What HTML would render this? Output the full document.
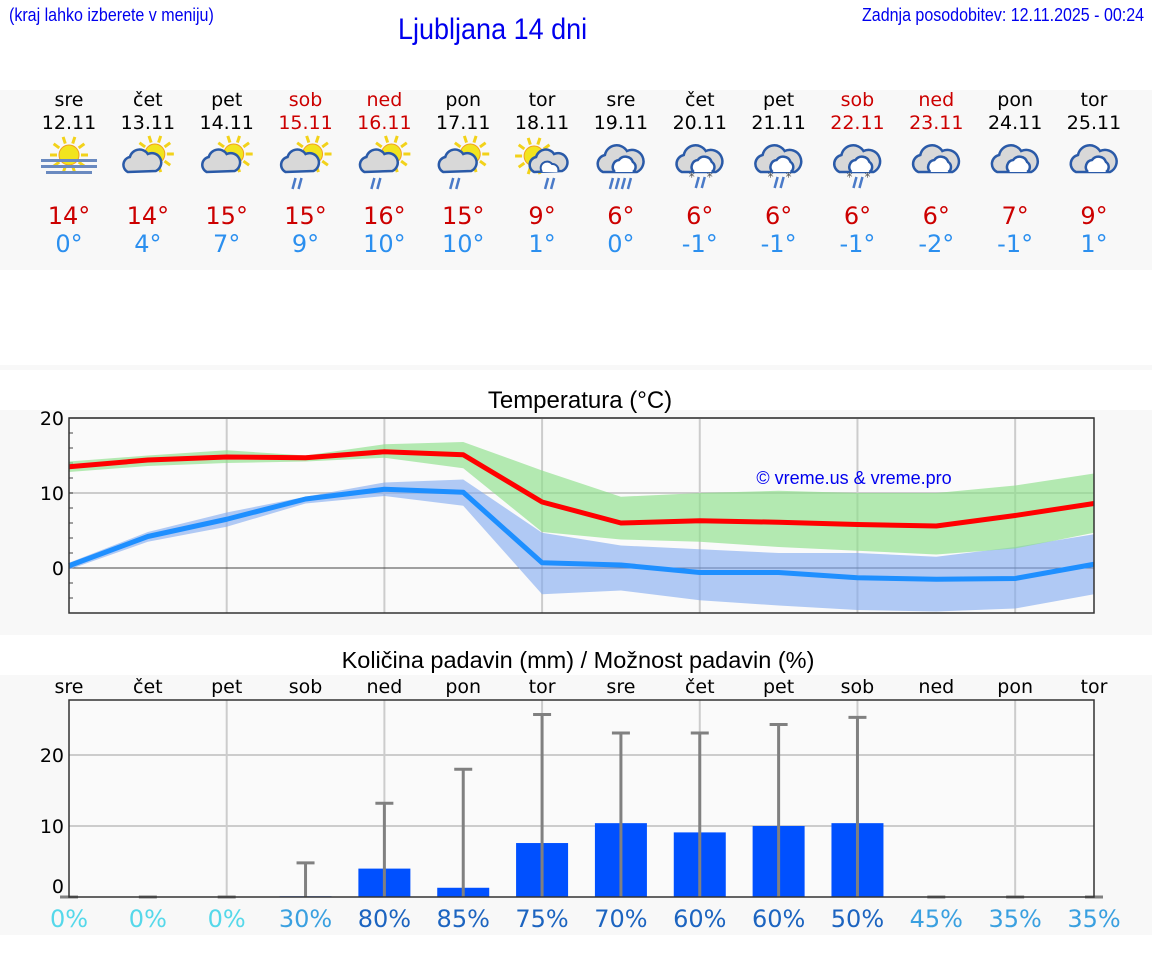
<!DOCTYPE html>
<html><head><meta charset="utf-8">
<style>
body{margin:0;width:1152px;height:975px;background:#fff;position:relative;overflow:hidden;font-family:"DejaVu Sans","Liberation Sans",sans-serif}
.abs{position:absolute}
.hdr{font-family:"Liberation Sans",sans-serif;color:#0000ee;font-size:18px;transform-origin:left top;transform:scaleX(0.89);white-space:nowrap}
.panel{position:absolute;left:0;width:1152px;background:#f8f8f8}
.col{position:absolute;width:80px;text-align:center}
</style></head><body>
<div class="abs hdr" style="left:9px;top:5px">(kraj lahko izberete v meniju)</div>
<div class="abs" style="left:398px;top:13px;font-family:'Liberation Sans',sans-serif;color:#0000ee;font-size:30px;transform:scaleX(0.9);transform-origin:left top;white-space:nowrap">Ljubljana 14 dni</div>
<div class="abs hdr" style="left:862px;top:5px">Zadnja posodobitev: 12.11.2025 - 00:24</div>
<div class="panel" style="top:90px;height:180px"></div>
<div class="panel" style="top:365px;height:5px"></div>
<div class="panel" style="top:410px;height:225px"></div>
<div class="panel" style="top:675px;height:260px"></div>
<div id="days"></div>
<svg id="chart" class="abs" style="left:0;top:0" width="1152" height="975"></svg>
<script>
const dayNames=["sre","čet","pet","sob","ned","pon","tor","sre","čet","pet","sob","ned","pon","tor"];
const dates=["12.11","13.11","14.11","15.11","16.11","17.11","18.11","19.11","20.11","21.11","22.11","23.11","24.11","25.11"];
const weekend=[0,0,0,1,1,0,0,0,0,0,1,1,0,0];
const icons=["fog","sc","sc","scr","scr","scr","sr","r","rs","rs","rs","c","c","c"];
const tMaxLabel=[14,14,15,15,16,15,9,6,6,6,6,6,7,9];
const tMinLabel=[0,4,7,9,10,10,1,0,-1,-1,-1,-2,-1,1];
const tMax=[13.5,14.4,14.8,14.7,15.5,15.1,8.8,6,6.3,6.1,5.8,5.6,7,8.6];
const tMaxHi=[14.2,15,15.7,15,16.5,16.8,13,9.5,10,10.3,10,10,11,12.6];
const tMaxLo=[12.8,13.6,14,14.2,14.7,13.3,4.8,3.8,3.5,2.8,2.3,1.8,2.6,4.7];
const tMin=[0.3,4.2,6.5,9.2,10.5,10.1,0.7,0.4,-0.6,-0.6,-1.3,-1.5,-1.4,0.5];
const tMinHi=[0.7,4.8,7.4,9.5,11.4,11.8,4.7,3,2.5,2,2,1.5,2.8,4.5];
const tMinLo=[-0.2,3.5,5.5,8.6,9.6,8.3,-3.5,-3,-4.3,-5,-5.6,-5.8,-5.4,-3.5];
const precip=[0,0,0,0.1,4,1.3,7.6,10.4,9.1,10,10.4,0,0,0];
const precipMax=[0,0,0,4.8,13.2,18,25.7,23.1,23.1,24.3,25.3,0,0,0];
const chance=[0,0,0,30,80,85,75,70,60,60,50,45,35,35];
const tempTicks=[0,10,20];
const precipTicks=[0,10,20];

const X0=69,X1=1094;
const x=i=>X0+(X1-X0)*i/13;
const yT=v=>568-7.5*v;
const yP=v=>897-7.1*v;
const NS="http://www.w3.org/2000/svg";
const svg=document.getElementById('chart');
function mk(tag,attrs,parent){const e=document.createElementNS(NS,tag);for(const k in attrs)e.setAttribute(k,attrs[k]);(parent||svg).appendChild(e);return e;}

const days=document.getElementById('days');
dayNames.forEach((d,i)=>{
  const c=document.createElement('div');c.className='col';
  
  
  c.style.left=(x(i)-40)+'px';c.style.top='89px';
  const col=weekend[i]?'#cc0000':'#000';
  c.innerHTML=`<div style="font-size:19px;color:${col};line-height:23px">${d}</div><div style="font-size:19px;color:${col};line-height:22px">${dates[i]}</div><div style="height:68px"></div><div style="font-size:24px;color:#cc0000;line-height:28px">${tMaxLabel[i]}°</div><div style="font-size:24px;color:#2b8fef;line-height:28px">${tMinLabel[i]}°</div>`;
  days.appendChild(c);
});
function sun(g,cx,cy){for(let k=0;k<10;k++){const a=k*Math.PI/5;mk('line',{x1:cx+Math.cos(a)*12,y1:cy+Math.sin(a)*12,x2:cx+Math.cos(a)*19,y2:cy+Math.sin(a)*19,stroke:'#f2d21a','stroke-width':3},g);}mk('circle',{cx,cy,r:10,fill:'#f2e41e',stroke:'#f0a020','stroke-width':1},g);}
function cloud(g,cx,cy,s){mk('path',{d:`M${cx-14*s} ${cy+10*s} a8 8 0 0 1 2 -15 a10 10 0 0 1 18 -3 a8 8 0 0 1 8 17 z`,fill:'#d8d8d8',stroke:'#2a5aa8','stroke-width':2.5},g);}
function bigcloud(g,cx,cy){mk('path',{d:`M${cx-18} ${cy+12} a9 9 0 0 1 2 -17 a12 12 0 0 1 22 -4 a10 10 0 0 1 10 21 z`,fill:'#d8d8d8',stroke:'#2a5aa8','stroke-width':2.5},g);mk('path',{d:`M${cx-6} ${cy+12} a7 7 0 0 1 4 -12 a8 8 0 0 1 14 2 a6 6 0 0 1 0 10`,fill:'#fff',stroke:'#2a5aa8','stroke-width':2.5},g);}
function rain(g,cx,cy,n){for(let k=0;k<n;k++)mk('line',{x1:cx+k*6+2,y1:cy,x2:cx+k*6-1,y2:cy+11,stroke:'#4a7ac8','stroke-width':2.5},g);}
function snow(g,cx,cy){[[-8,0],[10,0]].forEach(o=>mk('text',{x:cx+o[0],y:cy+o[1]+8,'font-size':12,fill:'#555','text-anchor':'middle'},g).textContent='*');}
icons.forEach((t,i)=>{
  const g=mk('g',{});
  
  
  const cx=x(i),cy=160;
  if(t=='fog'){sun(g,cx,cy-5);[0,6,12].forEach(o=>mk('rect',{x:cx-28+(o==12?5:0),y:cy+o-1,width:o==12?46:56,height:3,fill:'#6a8ac0'},g));}
  else if(t=='sc'||t=='scr'){sun(g,cx+7,cy-6);cloud(g,cx-6,cy+2,1);if(t=='scr')rain(g,cx-12,cy+18,2);}
  else if(t=='sr'){sun(g,cx-8,cy-4);cloud(g,cx+6,cy+2,1);mk('path',{d:`M${cx} ${cy+12} a6 6 0 0 1 10 -8 a6 6 0 0 1 6 8`,fill:'#fff',stroke:'#2a5aa8','stroke-width':2},g);rain(g,cx+4,cy+18,2);}
  else{bigcloud(g,cx,cy);if(t=='r')rain(g,cx-10,cy+18,4);if(t=='rs'){rain(g,cx-3,cy+17,2);snow(g,cx,cy+13);}}
});

mk('text',{x:580,y:408,'font-size':24,'text-anchor':'middle',fill:'#000','font-family':'Liberation Sans, sans-serif'}).textContent='Temperatura (°C)';
mk('rect',{x:X0,y:418,width:X1-X0,height:195,fill:'#fafafa'});
for(let i=2;i<13;i+=2)mk('line',{x1:x(i),x2:x(i),y1:418,y2:613,stroke:'#ccc','stroke-width':2});
tempTicks.forEach(v=>{mk('line',{x1:X0,x2:X1,y1:yT(v),y2:yT(v),stroke:v==0?'#444':'#ccc','stroke-width':v==0?1:2});mk('text',{x:X0-5,y:yT(v)+7,'font-size':19,'text-anchor':'end'}).textContent=v;});
for(let v=-6;v<=20;v+=2)mk('line',{x1:X0,x2:X0+4,y1:yT(v),y2:yT(v),stroke:'#444'});
function band(hi,lo,fill,op){let d='M'+hi.map((v,i)=>x(i)+' '+yT(v)).join(' L')+' L'+lo.map((v,i)=>x(i)+' '+yT(v)).reverse().join(' L')+'Z';return mk('path',{d,fill,opacity:op});}
const bn=band(tMinHi,tMinLo,'#7fa8f0',0.6);
const bm=band(tMaxHi,tMaxLo,'#8ee08a',0.65);
function line(a,c){return mk('polyline',{points:a.map((v,i)=>x(i)+','+yT(v)).join(' '),fill:'none',stroke:c,'stroke-width':5,'stroke-linejoin':'round'});}
const lmx=line(tMax,'#ff0000');
const lmn=line(tMin,'#1e8fff');
mk('rect',{x:X0,y:418,width:X1-X0,height:195,fill:'none',stroke:'#333','stroke-width':1.5});
mk('text',{x:854,y:484,'font-size':18,'text-anchor':'middle',fill:'#0000ee','font-family':'Liberation Sans, sans-serif'}).textContent='© vreme.us & vreme.pro';

mk('text',{x:578,y:668,'font-size':23.5,'text-anchor':'middle','font-family':'Liberation Sans, sans-serif'}).textContent='Količina padavin (mm) / Možnost padavin (%)';
dayNames.forEach((d,i)=>mk('text',{x:x(i),y:693,'font-size':19,'text-anchor':'middle'}).textContent=d);
mk('rect',{x:X0,y:700,width:X1-X0,height:197,fill:'#fafafa'});
for(let i=2;i<13;i+=2)mk('line',{x1:x(i),x2:x(i),y1:700,y2:897,stroke:'#ccc','stroke-width':2});
precipTicks.forEach(v=>{if(v>0)mk('line',{x1:X0,x2:X1,y1:yP(v),y2:yP(v),stroke:'#ccc','stroke-width':2});mk('text',{x:X0-5,y:yP(v)+(v==0?-4:7),'font-size':19,'text-anchor':'end'}).textContent=v;});
precip.forEach((v,i)=>{
  const b=mk('rect',{x:x(i)-26,y:yP(v),width:52,height:Math.max(0,yP(0)-yP(v)),fill:'#0050ff'});
  
  
  const m=precipMax[i];
  const e=mk('g',{});
  
  
  mk('line',{x1:x(i),x2:x(i),y1:yP(m),y2:yP(0),stroke:'#808080','stroke-width':3},e);
  mk('line',{x1:x(i)-9,x2:x(i)+9,y1:yP(m),y2:yP(m),stroke:'#808080','stroke-width':3},e);
  const cc=chance[i]<30?'#55d8ea':chance[i]<50?'#3aa0e0':'#1c64c0';
  const t=mk('text',{x:x(i),y:927,'font-size':24,'text-anchor':'middle',fill:cc});
  t.textContent=chance[i]+'%';
});
mk('rect',{x:X0,y:700,width:X1-X0,height:197,fill:'none',stroke:'#333','stroke-width':1.5});
</script>
</body></html>
